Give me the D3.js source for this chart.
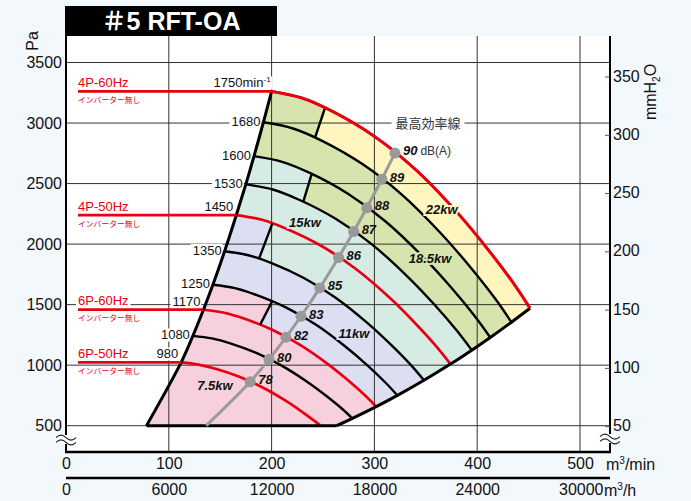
<!DOCTYPE html>
<html><head><meta charset="utf-8">
<script src="https://cdnjs.cloudflare.com/ajax/libs/d3/7.8.5/d3.min.js"></script>
<style>
html,body{margin:0;padding:0;background:#f3f8fd;}
svg{display:block;font-family:"Liberation Sans",Arial,Helvetica,sans-serif;}
</style></head><body>
<svg id="chart" width="691" height="501"></svg>
<script>
// ---------------- DATA ----------------
const titleText = "＃5 RFT-OA";
const flowTicks = [0,100,200,300,400,500];            // m3/min
const flowHourTicks = [0,6000,12000,18000,24000,30000]; // m3/h
const pressTicks = [500,1000,1500,2000,2500,3000,3500]; // Pa
const mmTicks = [50,100,150,200,250,300,350];          // mmH2O

const speeds = [1750,1680,1600,1530,1450,1350,1250,1170,1080,980]; // min-1
const redSpeeds = [1750,1450,1170,980];
// fan curves [flow m3/min, pressure Pa]
const curve1750 = [[200,3262],[230,3206],[260,3093],[300,2890],[340,2616],[380,2266],[410,1961],[435,1680],[451.4,1470]];
const curve1680 = [[192,3006],[220.8,2955],[249.6,2851],[288,2663],[326.4,2411],[364.8,2088],[393.6,1807],[417.6,1548],[433.3,1355]];
const curve1600 = [[182.9,2727],[210.3,2680],[237.7,2586],[274.3,2416],[310.9,2187],[347.4,1894],[374.9,1639],[397.7,1404],[412.7,1229]];
const curve1530 = [[174.9,2493],[201.1,2451],[227.3,2364],[262.3,2209],[297.3,2000],[332.2,1732],[358.5,1499],[380.3,1284],[394.7,1124]];
const curve1450 = [[165.7,2240],[190.6,2201],[215.4,2123],[248.6,1984],[281.7,1796],[314.9,1556],[339.7,1346],[360.4,1153],[374.0,1009]];
const curve1350 = [[154.3,1941],[177.4,1908],[200.6,1841],[231.4,1720],[262.3,1557],[293.1,1349],[316.3,1167],[335.6,1000],[348.2,875]];
const curve1250 = [[142.9,1664],[164.3,1636],[185.7,1578],[214.3,1475],[242.9,1335],[271.4,1156],[292.9,1001],[310.7,857],[322.4,750]];
const curve1170 = [[133.7,1458],[153.8,1433],[173.8,1383],[200.6,1292],[227.3,1169],[254.1,1013],[274.1,877],[290.8,751],[301.8,657]];
const curve1080 = [[123.4,1242],[141.9,1221],[160.5,1178],[185.1,1101],[209.8,996],[234.5,863],[253.0,747],[268.5,640],[278.6,560]];
const curve980  = [[112,1023],[128.8,1005],[145.6,970],[168,906],[190.4,820],[212.8,711],[229.6,615],[243.6,527],[247.4,500]];
const curveList = [curve1750,curve1680,curve1600,curve1530,curve1450,curve1350,curve1250,curve1170,curve1080,curve980];
const surgeBottom = [78.3,500];
const limitBottom = [263.3,500];

// motor / frequency labels
const hzLabels = ["4P-60Hz","4P-50Hz","6P-60Hz","6P-50Hz"];
const hzSpeeds = [1750,1450,1170,980];
const hzNote = "インバーター無し";

// power zones (upper curve / lower curve with dividing line)
const zoneNames = ["22kw","18.5kw","15kw","11kw","7.5kw"];
const zoneColors = ["#fff6bf","#d7e4ad","#d6ebe4","#dcdff1","#f6d0dc"];
const zoneUpper = [1750,1750,1600,1450,1250];
const zoneLower = [null,1680,1530,1350,1170];
const dividerTop = [null,[251.9,3124],[239,2580],[200.7,2169],[200.4,1525]];
const dividerBottom = [null,[242.2,2877],[230.8,2349],[187.7,1878],[188.7,1332]];
const zoneLabelPos = [[365.5,2287],[354.1,1883],[232.5,2182],[280.2,1266],[144.9,836]];

// max efficiency line, dB(A)
const effLevels = [90,89,88,87,86,85,83,82,80,78];
const effQ = [320,307.2,292.6,279.8,265.1,246.9,228.6,213.9,197.5,179.2];
const effP = [2752,2536,2300,2104,1889,1638,1404,1230,1048,863];
const effEnd = [136.4,500];

// ---------------- CHART ----------------
const W = 691, H = 501;
const plot = {l:66, r:610, t:36, b:452};
const RED = "#e60012";
const x = d3.scaleLinear().domain([0,500]).range([66,580]);
const xh = d3.scaleLinear().domain([0,30000]).range([66,580]);
const y = d3.scaleLinear().domain([500,3500]).range([425.7,62.5]);
const ymm = d3.scaleLinear().domain([50,350]).range([425.7,76]);
const fmt = d3.format("d");

const svg = d3.select("#chart");
svg.append("rect").attr("width",W).attr("height",H).attr("fill","#f3f8fd");
svg.append("rect").attr("x",plot.l).attr("y",plot.t).attr("width",plot.r-plot.l)
   .attr("height",plot.b-plot.t).attr("fill","#fff");

const defs = svg.append("defs");
const gFill = svg.append("g");
const gGrid = svg.append("g");
const gBg = svg.append("g");
const gCurves = svg.append("g");
const gEff = svg.append("g");
const gText = svg.append("g");

const lineGen = d3.line().x(d=>x(d[0])).y(d=>y(d[1])).curve(d3.curveCatmullRom.alpha(0.5));
const seg = pts => lineGen(pts).replace(/^M/,"L");
const curveOf = n => curveList[speeds.indexOf(n)];

// boundaries
const leftEdge = [surgeBottom].concat(curveList.map(c=>c[0])).sort((a,b)=>a[0]-b[0]);
const rightEdge = [limitBottom].concat(curveList.filter(c=>c!==curve980).map(c=>c[c.length-1])).sort((a,b)=>a[0]-b[0]);
const fanPath = lineGen(leftEdge) + seg(curve1750) + seg(rightEdge.slice().reverse()) + "Z";

defs.append("clipPath").attr("id","fanClip").append("path").attr("d",fanPath);

function belowPath(c){
  const s=[x(c[0][0]),y(c[0][1])], e=[x(c[c.length-1][0]),y(c[c.length-1][1])];
  return `M${s[0]-400},${s[1]}` + seg(c) + `L${e[0]+400},${e[1]}L${e[0]+400},700L${s[0]-400},700Z`;
}
function halfPlane(p1,p2){
  const x1=x(p1[0]),y1=y(p1[1]),x2=x(p2[0]),y2=y(p2[1]);
  const at = yy => x1+(x2-x1)*(yy-y1)/(y2-y1);
  return `M-10,-10L${at(-10)},-10L${at(600)},600L-10,600Z`;
}

const fillG = gFill.append("g").attr("clip-path","url(#fanClip)");
zoneNames.forEach((nm,i)=>{
  if(zoneLower[i]===null){
    fillG.append("path").attr("d",fanPath).attr("fill",zoneColors[i]);
    return;
  }
  defs.append("clipPath").attr("id","hp"+i).append("path").attr("d",halfPlane(dividerTop[i],dividerBottom[i]));
  fillG.append("path").attr("d",belowPath(curveOf(zoneLower[i]))).attr("fill",zoneColors[i]);
  fillG.append("path").attr("d",belowPath(curveOf(zoneUpper[i]))).attr("fill",zoneColors[i])
       .attr("clip-path",`url(#hp${i})`);
});

// grid
pressTicks.forEach(p=>{
  gGrid.append("line").attr("x1",plot.l).attr("x2",plot.r).attr("y1",y(p)).attr("y2",y(p))
    .attr("stroke","#333").attr("stroke-width",1);
});
flowTicks.slice(1).forEach(q=>{
  gGrid.append("line").attr("x1",x(q)).attr("x2",x(q)).attr("y1",plot.t).attr("y2",plot.b)
    .attr("stroke","#333").attr("stroke-width",1);
});

// curves
curveList.forEach((c,i)=>{
  const red = redSpeeds.includes(speeds[i]);
  gCurves.append("path").attr("d",lineGen(c)).attr("fill","none")
    .attr("stroke",red?RED:"#000").attr("stroke-width",red?2.7:2.4);
});
// dividers
dividerTop.forEach((t,i)=>{
  if(!t) return;
  gCurves.append("line").attr("x1",x(t[0])).attr("y1",y(t[1]))
    .attr("x2",x(dividerBottom[i][0])).attr("y2",y(dividerBottom[i][1]))
    .attr("stroke","#000").attr("stroke-width",2.4);
});
// boundaries
gCurves.append("path").attr("d",lineGen(leftEdge)).attr("fill","none").attr("stroke","#000").attr("stroke-width",3);
gCurves.append("path").attr("d",lineGen(rightEdge)).attr("fill","none").attr("stroke","#000").attr("stroke-width",3);
gCurves.append("line").attr("x1",x(surgeBottom[0])).attr("x2",x(limitBottom[0]))
  .attr("y1",y(500)).attr("y2",y(500)).attr("stroke","#000").attr("stroke-width",3);
gCurves.append("path").attr("d",lineGen(curve1750)).attr("fill","none").attr("stroke",RED).attr("stroke-width",2.8);

// horizontal red lines + labels
hzLabels.forEach((lab,i)=>{
  const st = curveOf(hzSpeeds[i])[0];
  const ly = y(st[1]);
  gCurves.append("line").attr("x1",78).attr("x2",x(st[0])).attr("y1",ly).attr("y2",ly)
    .attr("stroke",RED).attr("stroke-width",2.7);
  const t = gText.append("text").attr("x",78).attr("y",ly-4.5).attr("fill",RED)
    .attr("font-size",13).text(lab);
  const bb = t.node().getBBox();
  gBg.append("rect").attr("x",bb.x-2).attr("y",bb.y).attr("width",bb.width+4).attr("height",bb.height)
    .attr("fill","#fff");
  gText.append("text").attr("x",78).attr("y",ly+11.6).attr("fill",RED)
    .attr("font-size",7.8).attr("font-family","'Noto Sans CJK JP',sans-serif").text(hzNote);
});

// speed labels
speeds.forEach((n,i)=>{
  const st = curveList[i][0];
  const red = redSpeeds.includes(n);
  const cx = x(st[0]) - (n===1750?1:3);
  const cy = y(st[1]) - (red?8.5:1);
  const t = gText.append("text").attr("x",cx).attr("y",cy+4.6).attr("text-anchor","end")
    .attr("font-size",13).attr("fill","#111");
  if(n===1750){
    t.text("1750min");
    t.append("tspan").attr("font-size",8).attr("dy",-5).text("-1");
  } else t.text(n);
  const bb = t.node().getBBox();
  gBg.append("rect").attr("x",bb.x-2).attr("y",bb.y+1).attr("width",bb.width+3).attr("height",bb.height-2)
    .attr("fill","#fff");
});

// zone labels
zoneNames.forEach((nm,i)=>{
  gText.append("text").attr("x",x(zoneLabelPos[i][0])).attr("y",y(zoneLabelPos[i][1])+4.6)
    .attr("text-anchor","middle").attr("font-size",13).attr("font-weight","bold").attr("font-style","italic")
    .attr("fill","#111").attr("stroke",zoneColors[i]).attr("stroke-width",4).attr("paint-order","stroke")
    .text(nm);
});

// efficiency line
const effPts = [effEnd].concat(effQ.map((q,i)=>[q,effP[i]]).reverse());
gEff.append("path").attr("d",lineGen(effPts)).attr("fill","none").attr("stroke","#9a9a9a").attr("stroke-width",3);
effQ.forEach((q,i)=>{
  gEff.append("circle").attr("cx",x(q)).attr("cy",y(effP[i])).attr("r",5.5).attr("fill","#999");
  const t = gText.append("text").attr("x",x(q)+8).attr("y",y(effP[i])+2.4)
    .attr("font-size",13).attr("font-weight","bold").attr("font-style","italic").attr("fill","#111")
    .text(effLevels[i]);
  if(i===0){
    t.append("tspan").attr("font-weight","normal").attr("font-style","normal").attr("font-size",12)
      .attr("dx",3).attr("fill","#333").text("dB(A)");
  }
});
{
  const t = gText.append("text").attr("x",428).attr("y",y(3000)+4.5).attr("text-anchor","middle")
    .attr("font-size",13).attr("fill","#333").attr("font-family","'Noto Sans CJK JP',sans-serif").text("最高効率線");
  const bb = t.node().getBBox();
  gBg.append("rect").attr("x",bb.x-4).attr("y",bb.y).attr("width",bb.width+8).attr("height",bb.height).attr("fill","#fff");
}

// axes frame
const gAx = svg.append("g");
gAx.append("line").attr("x1",plot.l).attr("x2",plot.l).attr("y1",plot.t).attr("y2",plot.b+1).attr("stroke","#000").attr("stroke-width",2);
gAx.append("line").attr("x1",plot.r).attr("x2",plot.r).attr("y1",plot.t).attr("y2",plot.b+1).attr("stroke","#000").attr("stroke-width",2);
gAx.append("line").attr("x1",plot.l-1).attr("x2",plot.r+1).attr("y1",plot.b).attr("y2",plot.b).attr("stroke","#000").attr("stroke-width",2.5);
gAx.append("line").attr("x1",plot.l).attr("x2",plot.r).attr("y1",478).attr("y2",478).attr("stroke","#000").attr("stroke-width",2.5);

// left axis labels
const axL = svg.append("g").attr("transform",`translate(${plot.l},0)`)
  .call(d3.axisLeft(y).tickValues(pressTicks).tickFormat(fmt).tickSize(0).tickPadding(4));
axL.select(".domain").remove();
axL.selectAll("text").attr("font-size",16).attr("fill","#111").attr("font-family","'Liberation Sans',Arial,sans-serif");

// right axis
mmTicks.forEach(m=>{
  gAx.append("line").attr("x1",plot.r-5).attr("x2",plot.r).attr("y1",ymm(m)+1).attr("y2",ymm(m)+1)
    .attr("stroke","#555").attr("stroke-width",1);
  gAx.append("text").attr("x",plot.r+3).attr("y",ymm(m)+5.6).attr("font-size",16).attr("fill","#111").text(fmt(m));
});

// bottom axes
const axB = svg.append("g").attr("transform",`translate(0,${plot.b})`)
  .call(d3.axisBottom(x).tickValues(flowTicks).tickFormat(fmt).tickSize(0).tickPadding(6));
axB.select(".domain").remove();
axB.selectAll("text").attr("font-size",16).attr("fill","#111").attr("font-family","'Liberation Sans',Arial,sans-serif");
const axB2 = svg.append("g").attr("transform",`translate(0,478)`)
  .call(d3.axisBottom(xh).tickValues(flowHourTicks).tickFormat(fmt).tickSize(0).tickPadding(6));
axB2.select(".domain").remove();
axB2.selectAll("text").attr("font-size",16).attr("fill","#111").attr("font-family","'Liberation Sans',Arial,sans-serif");
axB2.selectAll(".tick").filter(d=>d===30000).select("text").attr("text-anchor","end").attr("x",23);

{
  const t = svg.append("text").attr("x",606).attr("y",470).attr("font-size",16).attr("fill","#111").text("m");
  t.append("tspan").attr("font-size",10).attr("dy",-6).text("3");
  t.append("tspan").attr("dy",6).text("/min");
  const t2 = svg.append("text").attr("x",604).attr("y",495.5).attr("font-size",16).attr("fill","#111").text("m");
  t2.append("tspan").attr("font-size",10).attr("dy",-6).text("3");
  t2.append("tspan").attr("dy",6).text("/h");
}

// axis titles
svg.append("text").attr("transform","translate(38,41) rotate(-90)").attr("text-anchor","middle")
  .attr("font-size",16).attr("fill","#111").text("Pa");
{
  const t = svg.append("text").attr("transform","translate(656,92) rotate(-90)").attr("text-anchor","middle")
    .attr("font-size",16).attr("fill","#111").text("mmH");
  t.append("tspan").attr("font-size",10).attr("dy",4).text("2");
  t.append("tspan").attr("dy",-4).text("O");
}

// axis break marks
function breakMark(cx,cy){
  svg.append("rect").attr("x",cx-11).attr("y",cy-5).attr("width",22).attr("height",9).attr("fill","#fff");
  [-2.3,2.3].forEach(o=>{
    svg.append("path").attr("d",`M${cx-10},${cy+o} q5,-5 10,0 t10,0`).attr("fill","none")
      .attr("stroke","#222").attr("stroke-width",1.2);
  });
}
breakMark(plot.l,440);
breakMark(plot.r,439);

// title
svg.append("rect").attr("x",65).attr("y",6).attr("width",212).attr("height",30).attr("fill","#000");
svg.append("text").attr("x",171).attr("y",30).attr("text-anchor","middle").attr("fill","#fff")
  .attr("font-size",25).attr("font-weight","bold")
  .attr("font-family","'Liberation Sans','Noto Sans CJK JP',sans-serif").text(titleText);
</script>
</body></html>
